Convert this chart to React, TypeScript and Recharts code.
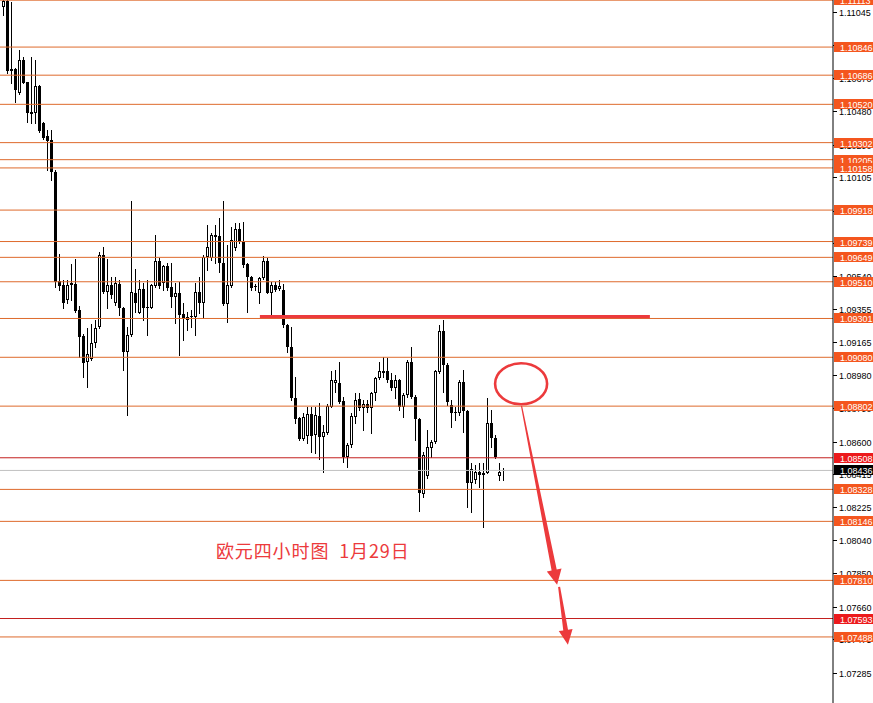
import React from "react";
import { ComposedChart, Bar, XAxis, YAxis, ReferenceLine, ReferenceDot } from "recharts";

// EURUSD H4 candles, oldest first
const OPEN = [
  1.11074, 1.1111, 1.10721, 1.10721, 1.10585, 1.10773, 1.10647, 1.10477, 1.10471, 1.10625,
  1.10414, 1.1034, 1.10317, 1.10135, 1.09515, 1.09492, 1.09407, 1.09492, 1.09498, 1.0935,
  1.09202, 1.09054, 1.09071, 1.09162, 1.09253, 1.09663, 1.09452, 1.09492, 1.0939, 1.09498,
  1.09361, 1.09111, 1.09207, 1.09447, 1.09333, 1.09469, 1.09367, 1.09361, 1.09486, 1.09629,
  1.09503, 1.096, 1.09481, 1.09424, 1.09447, 1.09327, 1.09293, 1.0931, 1.0931, 1.09452,
  1.0939, 1.09651, 1.09646, 1.09777, 1.09771, 1.09617, 1.09384, 1.09486, 1.09703, 1.09811,
  1.09737, 1.09612, 1.09538, 1.09481, 1.09447, 1.09532, 1.09629, 1.09447, 1.09492, 1.09469,
  1.09464, 1.09264, 1.09139, 1.08849, 1.08735, 1.08616, 1.08633, 1.08758, 1.08638, 1.08747,
  1.08627, 1.0865, 1.08798, 1.08934, 1.08934, 1.08832, 1.08513, 1.08581, 1.08741, 1.08843,
  1.08792, 1.08815, 1.08792, 1.08878, 1.08963, 1.09003, 1.09003, 1.08951, 1.08906, 1.08951,
  1.08798, 1.08866, 1.09054, 1.08855, 1.0873, 1.08303, 1.08405, 1.08564, 1.08599, 1.08997,
  1.0923, 1.09037, 1.08809, 1.0877, 1.08764, 1.0894, 1.08775, 1.08365, 1.08382, 1.08428,
  1.08411, 1.08422, 1.08707, 1.08621, 1.08405, 1.08434,
];
const HIGH = [
  1.1115, 1.1116, 1.111, 1.10727, 1.10829, 1.1079, 1.1065, 1.1079, 1.10773, 1.1063,
  1.1042, 1.10374, 1.10374, 1.10147, 1.09669, 1.09521, 1.09521, 1.09612, 1.0964, 1.09373,
  1.09213, 1.09247, 1.0927, 1.09293, 1.0968, 1.09708, 1.0964, 1.09538, 1.09538, 1.09521,
  1.09367, 1.09253, 1.0997, 1.09583, 1.09521, 1.09503, 1.09521, 1.09495, 1.09777, 1.09646,
  1.09606, 1.09617, 1.09617, 1.09503, 1.09509, 1.0939, 1.09338, 1.0935, 1.09503, 1.09538,
  1.09663, 1.09834, 1.09788, 1.09834, 1.09873, 1.0997, 1.0972, 1.09822, 1.09845, 1.09845,
  1.0985, 1.09617, 1.09543, 1.09498, 1.09538, 1.09657, 1.09646, 1.09509, 1.09509, 1.09521,
  1.09498, 1.0927, 1.09253, 1.08969, 1.0874, 1.08764, 1.08798, 1.08798, 1.08798, 1.08821,
  1.08695, 1.08815, 1.09003, 1.09008, 1.09054, 1.08855, 1.08593, 1.08764, 1.08878, 1.08878,
  1.08838, 1.08838, 1.08883, 1.08969, 1.09054, 1.09082, 1.09077, 1.08991, 1.0898, 1.08955,
  1.08878, 1.09065, 1.09139, 1.08866, 1.08735, 1.08542, 1.08667, 1.0861, 1.09008, 1.09264,
  1.09293, 1.09048, 1.08838, 1.08798, 1.08951, 1.09008, 1.08781, 1.08479, 1.08468, 1.08479,
  1.08479, 1.08849, 1.08781, 1.08638, 1.08479, 1.0845,
];
const LOW = [
  1.11029, 1.107, 1.10642, 1.10534, 1.10579, 1.1064, 1.1042, 1.10414, 1.10414, 1.10365,
  1.10325, 1.10147, 1.1009, 1.09481, 1.09464, 1.09361, 1.0939, 1.09407, 1.09338, 1.09082,
  1.08969, 1.08912, 1.09065, 1.09139, 1.09247, 1.09447, 1.09361, 1.09418, 1.09378, 1.09321,
  1.09008, 1.08752, 1.092, 1.09338, 1.0933, 1.09293, 1.09207, 1.09358, 1.09481, 1.09475,
  1.09464, 1.09464, 1.09367, 1.09276, 1.09094, 1.09179, 1.09236, 1.09253, 1.09207, 1.09333,
  1.09304, 1.09577, 1.09634, 1.09617, 1.09566, 1.09378, 1.09282, 1.09481, 1.09691, 1.09731,
  1.09594, 1.09338, 1.09464, 1.09464, 1.0939, 1.09527, 1.09444, 1.09316, 1.09458, 1.09464,
  1.09253, 1.09111, 1.08838, 1.08707, 1.0861, 1.0861, 1.08593, 1.08542, 1.08536, 1.08502,
  1.08428, 1.08645, 1.08795, 1.08883, 1.08821, 1.08485, 1.08456, 1.0857, 1.08707, 1.08781,
  1.08667, 1.0877, 1.0865, 1.08838, 1.08957, 1.08969, 1.0894, 1.08895, 1.08849, 1.08781,
  1.08741, 1.08855, 1.08849, 1.0861, 1.08206, 1.08286, 1.08394, 1.08513, 1.08593, 1.08991,
  1.08883, 1.08809, 1.08684, 1.08724, 1.08752, 1.08656, 1.08229, 1.082, 1.08365, 1.08343,
  1.08115, 1.0842, 1.0857, 1.08508, 1.08382, 1.08382,
];
const CLOSE = [
  1.1111, 1.1071, 1.1071, 1.10602, 1.10773, 1.10642, 1.10471, 1.10465, 1.10625, 1.10369,
  1.10329, 1.10312, 1.10135, 1.09509, 1.09486, 1.0939, 1.09492, 1.09503, 1.09344, 1.09196,
  1.09048, 1.09099, 1.09162, 1.09247, 1.09663, 1.09452, 1.09492, 1.09435, 1.09503, 1.09361,
  1.09111, 1.09207, 1.09452, 1.0939, 1.09469, 1.09361, 1.09361, 1.09492, 1.09629, 1.09486,
  1.096, 1.09475, 1.09424, 1.09447, 1.09321, 1.09301, 1.0931, 1.09316, 1.09452, 1.0939,
  1.09651, 1.09708, 1.09777, 1.09765, 1.09617, 1.09384, 1.09492, 1.09748, 1.09811, 1.09737,
  1.09606, 1.09538, 1.09475, 1.09486, 1.09532, 1.09629, 1.09447, 1.09492, 1.09464, 1.09486,
  1.09264, 1.09139, 1.08849, 1.0873, 1.08616, 1.08741, 1.08758, 1.08633, 1.08752, 1.08627,
  1.08655, 1.08803, 1.08951, 1.08951, 1.08826, 1.08513, 1.08581, 1.08747, 1.08838, 1.08792,
  1.08815, 1.08792, 1.08878, 1.08963, 1.09003, 1.08991, 1.08951, 1.08906, 1.08951, 1.08798,
  1.08866, 1.09054, 1.08855, 1.0873, 1.08308, 1.08525, 1.0857, 1.08599, 1.09003, 1.0923,
  1.09037, 1.08826, 1.08764, 1.08764, 1.0894, 1.08775, 1.08365, 1.08445, 1.08428, 1.08411,
  1.08422, 1.08707, 1.08621, 1.08513, 1.08428, 1.08436,
];

// horizontal price levels
const ORANGE_LEVELS = [
  1.11113, 1.10846, 1.10686, 1.1052, 1.10302, 1.10205, 1.10158, 1.09918, 1.09739, 1.09649,
  1.0951, 1.09301, 1.0908, 1.08802, 1.08328, 1.08146, 1.0781, 1.07488,
];
const RED_LEVELS = [1.08508, 1.07593];
const LAST_PRICE = 1.08436;

const PRICE_TICKS = [
  1.11045, 1.10855, 1.1067, 1.1048, 1.1029, 1.10105, 1.09915, 1.0973, 1.0954, 1.09355,
  1.09165, 1.0898, 1.0879, 1.086, 1.08415, 1.08225, 1.0804, 1.0785, 1.0766, 1.07475, 1.07285,
];
const PRICE_DOMAIN = [1.07112, 1.11114];
const BAR_DOMAIN = [-0.875, 207.375];

// drawn objects, placed in bar-index / price units
const RESIST_SEG = { from: 64.1, to: 161.6, price: 1.09312 };
const TARGET_RING = { bar: 129.4, price: 1.08929 };
const ARROW_1 = { x1: 129.5, y1: 1.08803, x2: 138.4, y2: 1.07785 };
const ARROW_2 = { x1: 138.9, y1: 1.07773, x2: 141.1, y2: 1.07443 };
const NOTE = { bar: 53.1, price: 1.07984, text: "欧元四小时图  1月29日" };

const data = OPEN.map((o, i) => ({
  t: i,
  o,
  h: HIGH[i],
  l: LOW[i],
  c: CLOSE[i],
  range: [LOW[i], HIGH[i]],
}));

const ORANGE_LINE = "#de6a2c";
const ORANGE_TAG = "#f4561e";
const RED_LINE = "#c3201f";
const RED_TAG = "#ec1a1c";
const MARK = "#ec3a3c";
const FONT = "Liberation Sans, Arial, sans-serif";

function Candle(props: any) {
  const { x, y, width, height, payload } = props;
  if (x == null || y == null || !payload) return null;
  const { o, h, l, c } = payload;
  const k = h > l ? height / (h - l) : 0;
  const py = (v: number) => y + (h - v) * k;
  const cx = Math.floor(x + width / 2) + 0.5;
  const top = Math.round(py(Math.max(o, c)));
  const bot = Math.round(py(Math.min(o, c)));
  const up = c > o;
  return (
    <g>
      <line x1={cx} x2={cx} y1={Math.round(y)} y2={Math.round(y + height) + 1} stroke="#000" strokeWidth={1} />
      {up ? (
        bot - top > 1 ? (
          <rect x={cx - 1} y={top + 0.5} width={2} height={bot - top - 1} fill="#fff" stroke="#000" strokeWidth={1} />
        ) : (
          <rect x={cx - 1.5} y={top} width={3} height={1} fill="#000" />
        )
      ) : (
        <rect x={cx - 1.5} y={top} width={3} height={Math.max(bot - top, 1)} fill="#000" />
      )}
    </g>
  );
}

// price scale tick: small dash and the value, right of the plot
function scaleTick(value: number) {
  return (props: any) => {
    const vb = props.viewBox;
    if (!vb) return null;
    const x = vb.x + vb.width;
    const y = Math.round(vb.y) + 0.5;
    return (
      <g>
        <line x1={x} x2={x + 4} y1={y} y2={y} stroke="#000" strokeWidth={1} />
        <text x={x + 6} y={y} dominantBaseline="central" fontSize={9} fontFamily={FONT} fill="#000">
          {value.toFixed(5)}
        </text>
      </g>
    );
  };
}

function priceTag(value: number, bg: string) {
  return (props: any) => {
    const vb = props.viewBox;
    if (!vb) return null;
    const x = vb.x + vb.width + 1;
    const y = Math.round(vb.y);
    return (
      <g>
        <rect x={x} y={y - 5} width={40} height={10} fill={bg} />
        <text x={x + 6} y={y + 0.5} dominantBaseline="central" fontSize={9} fontFamily={FONT} fill="#fff">
          {value.toFixed(5)}
        </text>
      </g>
    );
  };
}

function arrowShape(w0: number, w1: number, headLen: number, headHalf: number) {
  return (props: any) => {
    const { x1, y1, x2, y2 } = props;
    if ([x1, y1, x2, y2].some((v) => v == null)) return <g />;
    const dx = x2 - x1;
    const dy = y2 - y1;
    const len = Math.hypot(dx, dy) || 1;
    const ux = dx / len;
    const uy = dy / len;
    const nx = -uy;
    const ny = ux;
    const bx = x2 - ux * headLen;
    const by = y2 - uy * headLen;
    const pts = [
      [x1 + nx * w0, y1 + ny * w0],
      [bx + nx * w1, by + ny * w1],
      [bx + nx * headHalf, by + ny * headHalf],
      [x2, y2],
      [bx - nx * headHalf, by - ny * headHalf],
      [bx - nx * w1, by - ny * w1],
      [x1 - nx * w0, y1 - ny * w0],
    ];
    return <polygon points={pts.map((p) => p.join(",")).join(" ")} fill={MARK} />;
  };
}

export default function App() {
  return (
    <div style={{ position: "absolute", left: 0, top: 0, background: "#fff" }}>
      <ComposedChart
        width={873}
        height={703}
        data={data}
        margin={{ top: 0, right: 0, bottom: 0, left: 0 }}
        style={{ fontFamily: FONT }}
      >
        <XAxis xAxisId="n" dataKey="t" type="number" domain={BAR_DOMAIN} hide allowDataOverflow />
        <YAxis
          yAxisId="p"
          orientation="right"
          width={40}
          domain={PRICE_DOMAIN}
          allowDataOverflow
          tick={false}
          tickLine={false}
          axisLine={{ stroke: "#000" }}
        />

        {PRICE_TICKS.map((v) => (
          <ReferenceLine key={"t" + v} xAxisId="n" yAxisId="p" y={v} stroke="none" label={scaleTick(v)} />
        ))}
        {ORANGE_LEVELS.map((v) => (
          <ReferenceLine
            key={v}
            xAxisId="n"
            yAxisId="p"
            y={v}
            stroke={ORANGE_LINE}
            strokeWidth={1}
            label={priceTag(v, ORANGE_TAG)}
          />
        ))}
        {RED_LEVELS.map((v) => (
          <ReferenceLine key={v} xAxisId="n" yAxisId="p" y={v} stroke={RED_LINE} strokeWidth={1} label={priceTag(v, RED_TAG)} />
        ))}
        <ReferenceLine xAxisId="n" yAxisId="p" y={LAST_PRICE} stroke="#c0c0c0" strokeWidth={1} label={priceTag(LAST_PRICE, "#000")} />

        <Bar xAxisId="n" yAxisId="p" dataKey="range" barSize={3} shape={<Candle />} isAnimationActive={false} />

        <ReferenceLine
          xAxisId="n"
          yAxisId="p"
          segment={[
            { x: RESIST_SEG.from, y: RESIST_SEG.price },
            { x: RESIST_SEG.to, y: RESIST_SEG.price },
          ]}
          stroke={MARK}
          strokeWidth={3.2}
        />
        <ReferenceDot
          xAxisId="n"
          yAxisId="p"
          x={TARGET_RING.bar}
          y={TARGET_RING.price}
          r={1}
          shape={(p: any) => <ellipse cx={p.cx} cy={p.cy} rx={26} ry={20.5} fill="none" stroke={MARK} strokeWidth={2.6} />}
        />
        <ReferenceLine
          xAxisId="n"
          yAxisId="p"
          segment={[
            { x: ARROW_1.x1, y: ARROW_1.y1 },
            { x: ARROW_1.x2, y: ARROW_1.y2 },
          ]}
          shape={arrowShape(0.6, 2.6, 15, 7.5)}
        />
        <ReferenceLine
          xAxisId="n"
          yAxisId="p"
          segment={[
            { x: ARROW_2.x1, y: ARROW_2.y1 },
            { x: ARROW_2.x2, y: ARROW_2.y2 },
          ]}
          shape={arrowShape(1, 2.4, 15, 7)}
        />
        <ReferenceDot
          xAxisId="n"
          yAxisId="p"
          x={NOTE.bar}
          y={NOTE.price}
          r={1}
          shape={(p: any) => (
            <text
              x={p.cx}
              y={p.cy}
              dominantBaseline="central"
              fontSize={18}
              letterSpacing={0.9}
              fontFamily="Noto Sans CJK SC"
              fill={MARK}
              style={{ whiteSpace: "pre" }}
            >
              {NOTE.text}
            </text>
          )}
        />
      </ComposedChart>
    </div>
  );
}
